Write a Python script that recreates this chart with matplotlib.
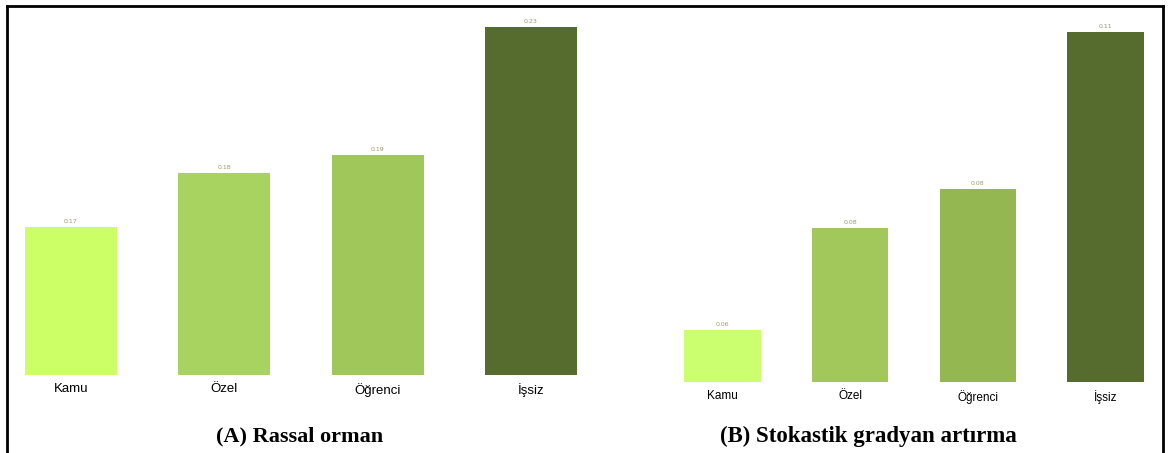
import matplotlib.pyplot as plt
from matplotlib.lines import Line2D

W, H = 1169, 453

categories = ['Kamu', 'Özel', 'Öğrenci', 'İşsiz']

# (A) random forest importances
rf_values = [0.166, 0.184, 0.190, 0.2327]
rf_colors = ['#ccff66', '#a8d360', '#9fc75a', '#566c2f']

# (B) stochastic gradient boosting importances
sgb_values = [0.059, 0.0755, 0.0818, 0.1072]
sgb_colors = ['#ccff70', '#a2c85b', '#94b752', '#566c2f']


def px_axes(fig, left, right, bottom, top):
    return fig.add_axes([left / W, 1 - bottom / H, (right - left) / W, (bottom - top) / H])


def draw_panel(ax, values, colors, ybase, tick_size, pad):
    x = range(len(values))
    bars = ax.bar(x, values, width=0.6, color=colors)
    ax.set_xlim(-0.3, len(values) - 0.7)
    ax.set_ylim(ybase, max(values))
    ax.bar_label(bars, fmt='%.2f', padding=2, fontsize=4.5, color='#9a9a6a')
    ax.set_xticks(list(x))
    ax.set_xticklabels(categories, fontsize=tick_size, family='Liberation Sans')
    ax.tick_params(axis='x', length=0, pad=pad)
    ax.set_yticks([])
    for s in ax.spines.values():
        s.set_visible(False)
    ax.patch.set_alpha(0)


fig = plt.figure(figsize=(W / 100, H / 100), dpi=100)

# panel A: baseline at y=375 px, tallest bar top at 27 px
axA = px_axes(fig, 25, 577, 375, 27)
draw_panel(axA, rf_values, rf_colors, 0.1167, 9.5, 6)

# panel B: baseline at y=382 px, tallest bar top at 32 px
axB = px_axes(fig, 684, 1144, 382, 32)
draw_panel(axB, sgb_values, sgb_colors, 0.0506, 8.5, 6)

fig.text(300 / W, 1 - 436 / H, '(A) Rassal orman', ha='center', va='center',
         fontsize=16, fontweight='bold', family='Liberation Serif')
fig.text(868 / W, 1 - 436 / H, '(B) Stokastik gradyan artırma', ha='center', va='center',
         fontsize=16.5, fontweight='bold', family='Liberation Serif')

# frame lines (left, top, right)
lw = 2
fig.add_artist(Line2D([7 / W, 7 / W], [0, 1 - 6 / H], color='black', lw=lw))
fig.add_artist(Line2D([7 / W, 1163 / W], [1 - 6 / H, 1 - 6 / H], color='black', lw=lw))
fig.add_artist(Line2D([1163 / W, 1163 / W], [0, 1 - 6 / H], color='black', lw=lw))

fig.savefig('out.png', dpi=100)
